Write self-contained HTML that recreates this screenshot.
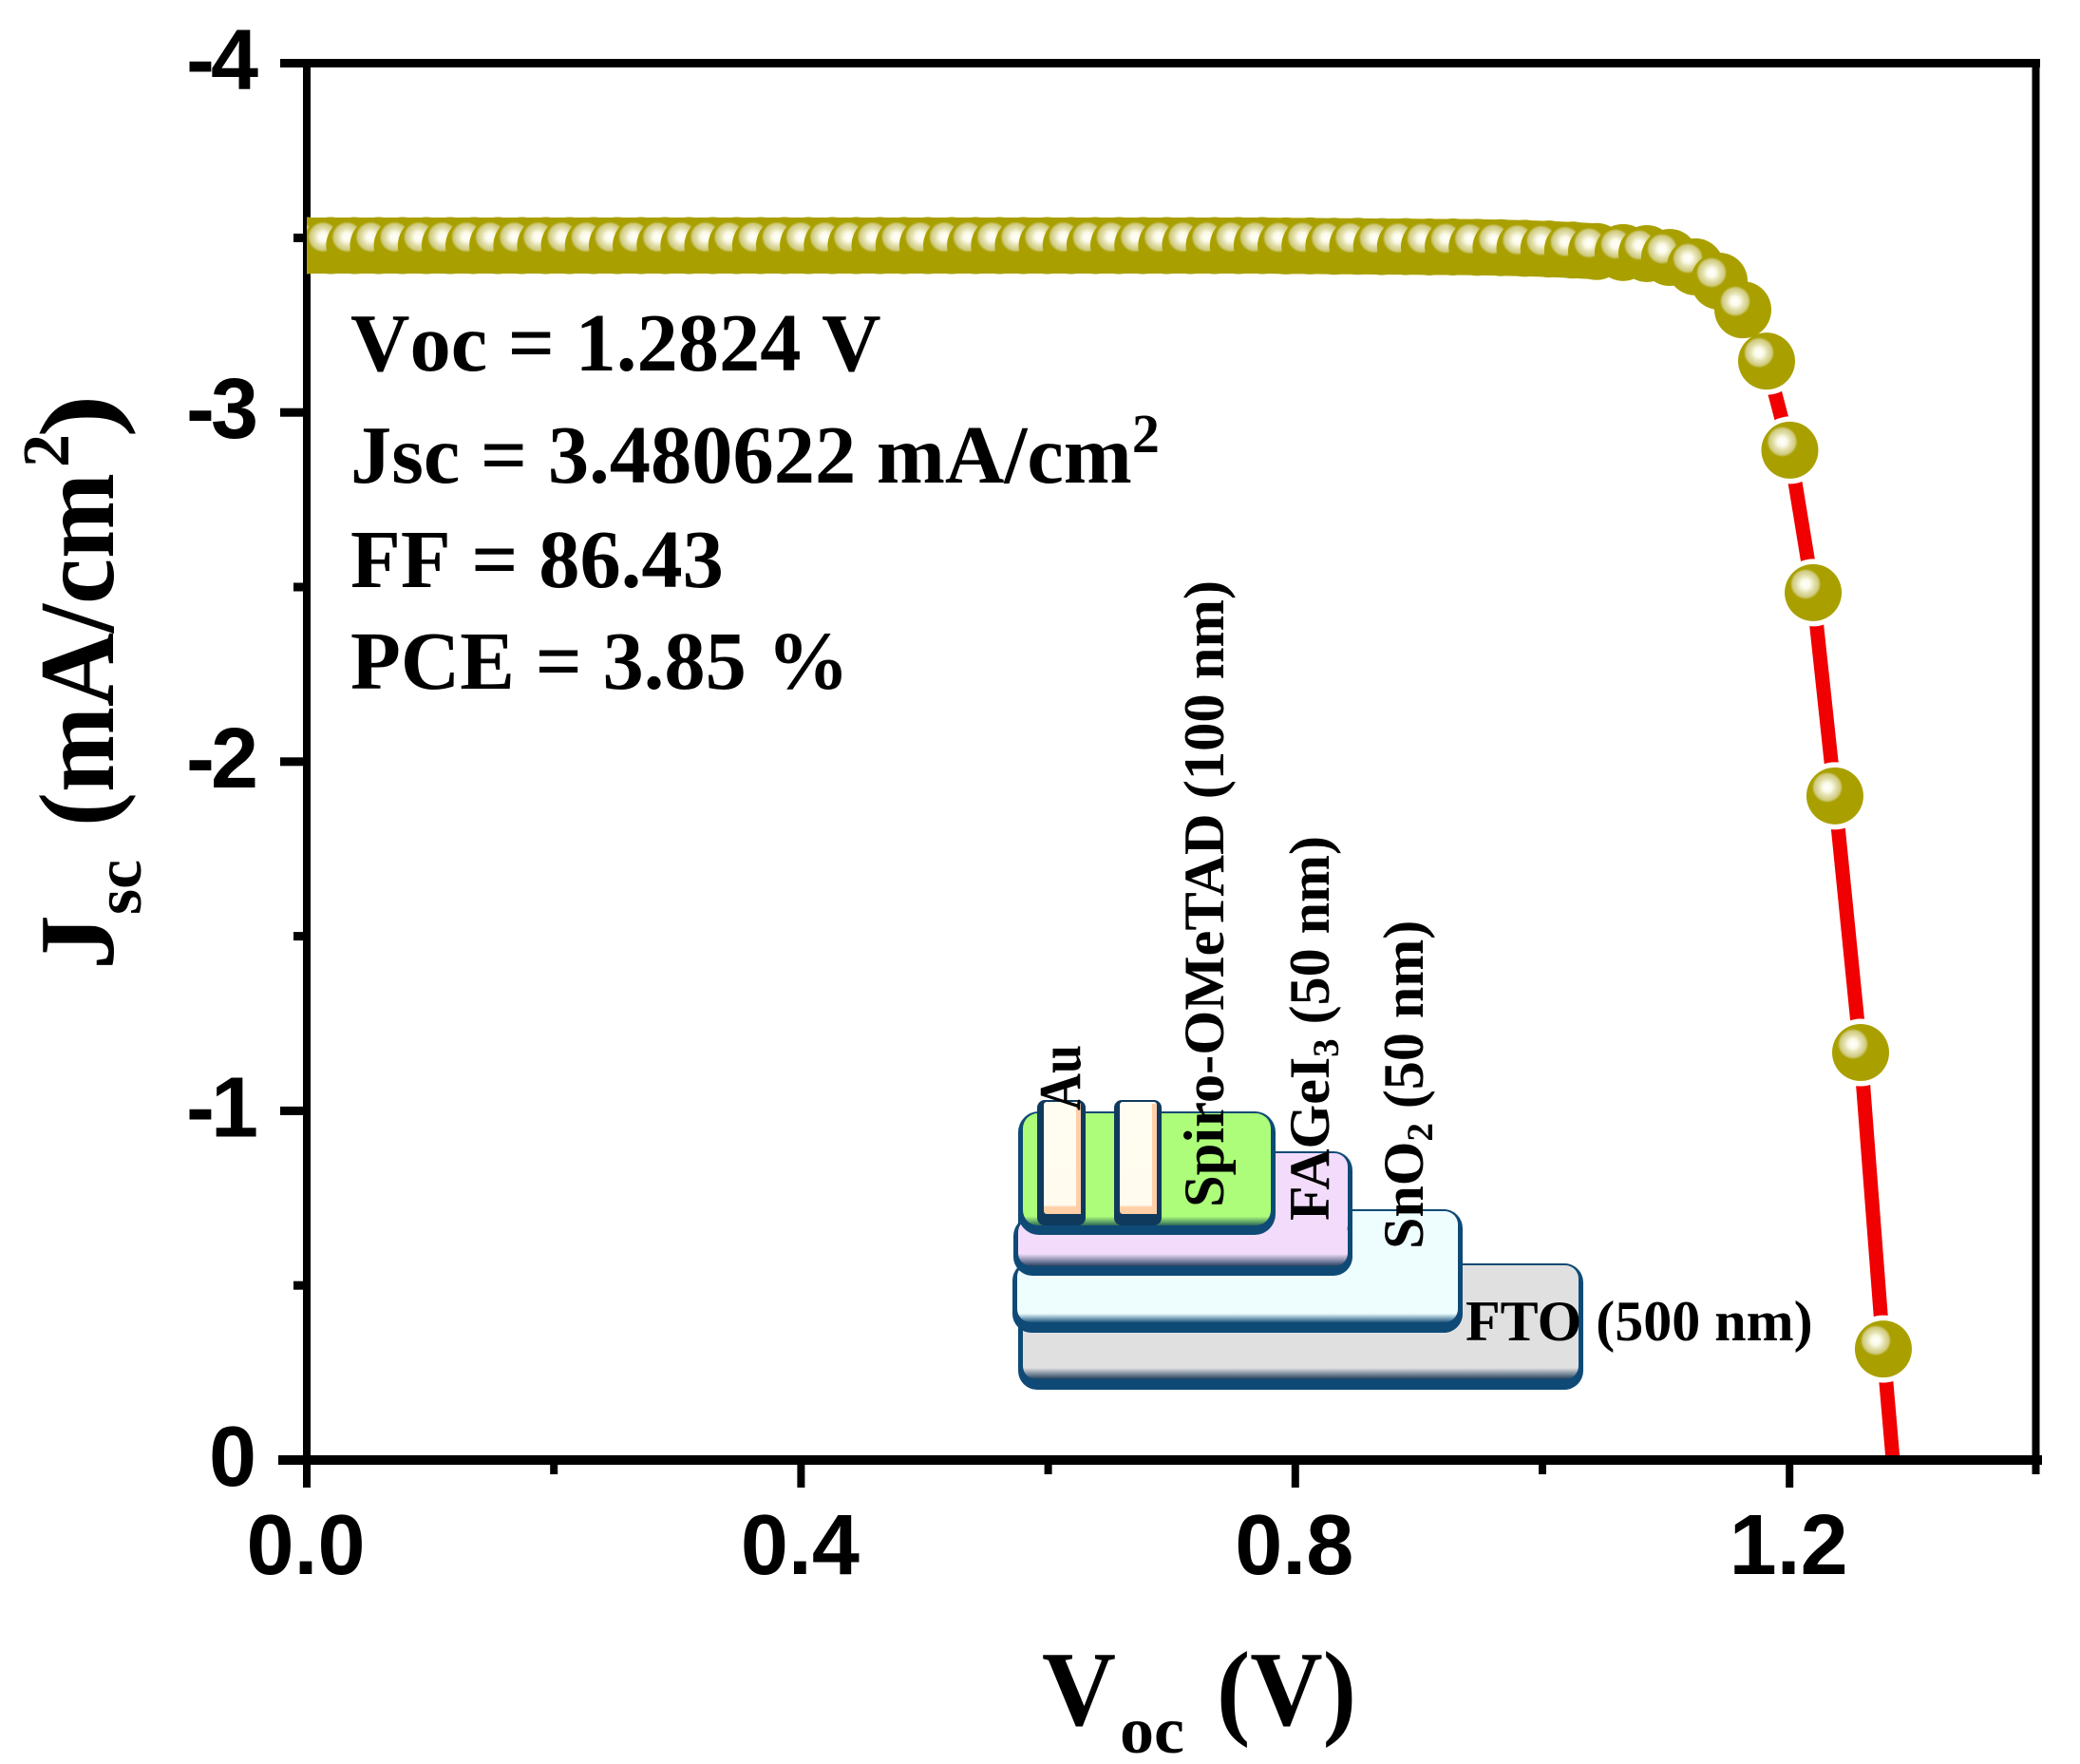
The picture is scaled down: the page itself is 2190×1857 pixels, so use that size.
<!DOCTYPE html>
<html lang="en">
<head>
<meta charset="utf-8">
<title>Jsc vs Voc J-V curve</title>
<style>
html,body{margin:0;padding:0;background:#fff;width:2190px;height:1857px;overflow:hidden}
svg{display:block}
.tick{font-family:"Liberation Sans",Arial,sans-serif;font-weight:700;font-size:90px;fill:#000}
.serif{font-family:"Liberation Serif","Times New Roman",serif;font-weight:700;fill:#000}
.stat{font-size:86.5px;font-kerning:none}
.lab{font-size:60px}
.title{font-size:112px}
.titlesub{font-size:70px}
</style>
</head>
<body>
<svg id="chart" xmlns="http://www.w3.org/2000/svg" width="2190" height="1857" viewBox="0 0 2190 1857">
<defs>
  <radialGradient id="marker-gradient" cx="0.367" cy="0.35" r="0.27" fx="0.367" fy="0.35">
    <stop offset="0" stop-color="#ffffff"/>
    <stop offset="0.3" stop-color="#fbfae8"/>
    <stop offset="0.55" stop-color="#e4e1b0"/>
    <stop offset="0.85" stop-color="#cfca7c"/>
    <stop offset="1" stop-color="#a9a000"/>
  </radialGradient>
  <clipPath id="plot-clip"><rect x="323" y="0" width="1822" height="1537"/></clipPath>
  <linearGradient id="fto-fill" x1="0" y1="0" x2="0" y2="1">
    <stop offset="0" stop-color="#e0e0e0"/><stop offset="0.9" stop-color="#e0e0e0"/><stop offset="1" stop-color="#1f3f5c"/>
  </linearGradient>
  <linearGradient id="sno2-fill" x1="0" y1="0" x2="0" y2="1">
    <stop offset="0" stop-color="#eefeff"/><stop offset="0.85" stop-color="#eefeff"/><stop offset="1" stop-color="#1f5680"/>
  </linearGradient>
  <linearGradient id="fagei-fill" x1="0" y1="0" x2="0" y2="1">
    <stop offset="0" stop-color="#f3dcfb"/><stop offset="0.74" stop-color="#f3dcfb"/><stop offset="1" stop-color="#23405f"/>
  </linearGradient>
  <linearGradient id="spiro-fill" x1="0" y1="0" x2="0" y2="1">
    <stop offset="0" stop-color="#adfc7a"/><stop offset="0.92" stop-color="#adfc7a"/><stop offset="1" stop-color="#2f6a5a"/>
  </linearGradient>
  <linearGradient id="au-fill" x1="0" y1="0" x2="0" y2="1">
    <stop offset="0" stop-color="#fffdf2"/><stop offset="0.92" stop-color="#fffbee"/><stop offset="0.94" stop-color="#ffcfa8"/><stop offset="1" stop-color="#ffcfa8"/>
  </linearGradient>
</defs>

<g id="series-line-layer"></g>
<g id="halo-layer"></g>
<g id="axes-layer"></g>
<g id="marker-layer" clip-path="url(#plot-clip)"></g>

<g>
  <g>
    <rect x="1072" y="1330" width="595" height="133" rx="20" fill="#0f4a76"/>
    <rect x="1077" y="1332" width="585" height="120" rx="14" fill="url(#fto-fill)"/>
  </g>
  <g>
    <rect x="1071" y="1273" width="469" height="130" rx="20" fill="#0f4a76"/>
    <rect x="1066" y="1328" width="474" height="75" rx="20" fill="#0f4a76"/>
    <rect x="1080" y="1275" width="455" height="100" rx="14" fill="#eefeff"/>
    <rect x="1071" y="1330" width="464" height="62" rx="14" fill="url(#sno2-fill)"/>
  </g>
  <g>
    <rect x="1072" y="1212" width="352" height="130" rx="20" fill="#0f4a76"/>
    <rect x="1067" y="1281" width="357" height="62" rx="20" fill="#0f4a76"/>
    <rect x="1080" y="1214" width="339" height="90" rx="14" fill="#f3dcfb"/>
    <rect x="1072" y="1283" width="347" height="50" rx="14" fill="url(#fagei-fill)"/>
  </g>
  <g>
    <rect x="1072" y="1170" width="271" height="130" rx="22" fill="#0f4a76"/>
    <rect x="1077" y="1172" width="261" height="118" rx="16" fill="url(#spiro-fill)"/>
  </g>
  <g>
    <rect x="1092" y="1158" width="51" height="132" rx="8" fill="#0f3a5e"/>
    <rect x="1099" y="1160" width="39" height="118" rx="3" fill="url(#au-fill)"/>
    <rect x="1133" y="1162" width="5" height="116" fill="#ffcfa8"/>
  </g>
  <g>
    <rect x="1173" y="1158" width="50" height="132" rx="8" fill="#0f3a5e"/>
    <rect x="1179" y="1160" width="39" height="118" rx="3" fill="url(#au-fill)"/>
    <rect x="1213" y="1162" width="5" height="116" fill="#ffcfa8"/>
  </g>
  <text class="serif" font-size="62" transform="translate(1137,1169) rotate(-90)" textLength="69" lengthAdjust="spacingAndGlyphs">Au</text>
  <text class="serif lab" transform="translate(1288,1271) rotate(-90)" textLength="660" lengthAdjust="spacingAndGlyphs">Spiro-OMeTAD (100 nm)</text>
  <text class="serif lab" transform="translate(1399,1285) rotate(-90)">FAGeI<tspan font-size="39" dy="10">3</tspan><tspan dy="-10"> (50 nm)</tspan></text>
  <text class="serif lab" transform="translate(1498,1315) rotate(-90)">SnO<tspan font-size="39" dy="10">2</tspan><tspan dy="-10"> (50 nm)</tspan></text>
  <text class="serif lab" x="1543" y="1411">FTO (500 nm)</text>
</g>

<g>
  <text class="serif stat" x="369" y="390">Voc = 1.2824 V</text>
  <text class="serif stat" x="369" y="508">Jsc = 3.480622 mA/cm<tspan font-size="58" dy="-32">2</tspan></text>
  <text class="serif stat" x="369" y="618">FF = 86.43</text>
  <text class="serif stat" x="369" y="725">PCE = 3.85 %</text>
</g>

<g transform="translate(119,1018) rotate(-90)">
  <text class="serif title" x="-3" y="0" textLength="58" lengthAdjust="spacingAndGlyphs">J</text>
  <text class="serif titlesub" x="55" y="29" textLength="58" lengthAdjust="spacingAndGlyphs">sc</text>
  <text class="serif title" x="148" y="0" textLength="372" lengthAdjust="spacingAndGlyphs">(mA/cm</text>
  <text class="serif titlesub" x="526" y="-47">2</text>
  <text class="serif title" x="557" y="0" textLength="46" lengthAdjust="spacingAndGlyphs">)</text>
</g>

<g>
  <text class="serif title" x="1097" y="1816" textLength="78" lengthAdjust="spacingAndGlyphs">V</text>
  <text class="serif titlesub" x="1179" y="1845" textLength="68" lengthAdjust="spacingAndGlyphs">oc</text>
  <text class="serif title" x="1281" y="1816" textLength="147" lengthAdjust="spacingAndGlyphs">(V)</text>
</g>
</svg>

<script>
const voltageValues = [0,0.0193,0.0387,0.0580,0.0773,0.0967,0.1160,0.1353,0.1546,0.1740,0.1933,0.2126,0.2320,0.2513,0.2706,0.2900,0.3093,0.3286,0.3479,0.3673,0.3866,0.4059,0.4253,0.4446,0.4639,0.4833,0.5026,0.5219,0.5412,0.5606,0.5799,0.5992,0.6186,0.6379,0.6572,0.6766,0.6959,0.7152,0.7345,0.7539,0.7732,0.7925,0.8119,0.8312,0.8505,0.8699,0.8892,0.9085,0.9278,0.9472,0.9665,0.9858,1.0052,1.0245,1.0438,1.0653,1.0845,1.1030,1.1238,1.1430,1.1622,1.1814,1.2002,1.2191,1.2367,1.2575,1.2759];
const currentValues = [-3.478,-3.478,-3.478,-3.478,-3.478,-3.478,-3.478,-3.478,-3.478,-3.478,-3.478,-3.478,-3.478,-3.478,-3.478,-3.478,-3.478,-3.478,-3.478,-3.478,-3.478,-3.478,-3.478,-3.478,-3.478,-3.478,-3.478,-3.478,-3.478,-3.478,-3.478,-3.478,-3.478,-3.478,-3.478,-3.478,-3.478,-3.478,-3.478,-3.478,-3.478,-3.477,-3.477,-3.476,-3.476,-3.475,-3.475,-3.474,-3.474,-3.473,-3.472,-3.470,-3.468,-3.465,-3.461,-3.458,-3.455,-3.444,-3.417,-3.376,-3.294,-3.147,-2.892,-2.484,-1.902,-1.167,-0.318];
const lineEndVoltage = [1.2836];
const lineEndCurrent = [0];
const xMajorTicks = [0,0.4,0.8,1.2];
const xTickLabels = ["0.0","0.4","0.8","1.2"];
const xMinorTicks = [0.2,0.6,1.0,1.4];
const yMajorTicks = [-4,-3,-2,-1,0];
const yTickLabels = ["-4","-3","-2","-1","0"];
const yMinorTicks = [-3.5,-2.5,-1.5,-0.5];

const NS = "http://www.w3.org/2000/svg";
const X0 = 323, X_PER_UNIT = 1301;
const Y0 = 1537, Y_PER_UNIT = 367.6;
function xScale(v){ return X0 + v * X_PER_UNIT; }
function yScale(j){ return Y0 + j * Y_PER_UNIT; }
function make(tag, attrs){
  const el = document.createElementNS(NS, tag);
  for (const k in attrs) el.setAttribute(k, attrs[k]);
  return el;
}

const lineLayer = document.getElementById("series-line-layer");
const haloLayer = document.getElementById("halo-layer");
const axesLayer = document.getElementById("axes-layer");
const markerLayer = document.getElementById("marker-layer");

const allV = voltageValues.concat(lineEndVoltage);
const allJ = currentValues.concat(lineEndCurrent);
const pts = allV.map(function(v,i){ return xScale(v).toFixed(1)+","+yScale(allJ[i]).toFixed(1); }).join(" ");
const redLine = make("polyline", {points:pts, fill:"none", stroke:"#f00000", "stroke-width":15, "stroke-linecap":"round", "stroke-linejoin":"round", "clip-path":"url(#plot-clip)"});


lineLayer.appendChild(redLine);

voltageValues.forEach(function(v,i){
  const halo = make("circle", {cx:xScale(v), cy:yScale(currentValues[i]), r:35.5, fill:"#ffffff"});
  
  
  haloLayer.appendChild(halo);
});

function axisRect(x,y,w,h,name){
  const r = make("rect", {x:x, y:y, width:w, height:h, fill:"#000"});
  
  
  axesLayer.appendChild(r);
}
axisRect(319, 62, 8, 1475, "left-axis-line");
axisRect(2139.5, 62, 8, 1475, "right-axis-line");
axisRect(295, 62, 1853, 9, "top-axis-line");
axisRect(293, 1532, 1857, 10, "bottom-axis-line");

xMajorTicks.forEach(function(v,i){
  const px = xScale(v);
  axisRect(px-4, 1537, 8, 29, "x-major-tick");
  const t = make("text", {x:px-1, y:1657, "text-anchor":"middle", class:"tick"});
  t.textContent = xTickLabels[i];
  
  
  axesLayer.appendChild(t);
});
xMinorTicks.forEach(function(v){
  axisRect(Math.min(xScale(v),2143.5)-4, 1537, 8, 15, "x-minor-tick");
});
yMajorTicks.forEach(function(j,i){
  const py = yScale(j);
  axisRect(295, py-4.5, 26, 9, "y-major-tick");
  const negative = yTickLabels[i].length > 1;
  const t = make("text", {x:negative ? 268 : 270, y:py+27, "text-anchor":"end", class:"tick"});
  if (negative) t.setAttribute("letter-spacing", "-4");
  t.textContent = yTickLabels[i];
  
  
  axesLayer.appendChild(t);
});
yMinorTicks.forEach(function(j){
  axisRect(309, yScale(j)-4.5, 12, 9, "y-minor-tick");
});

const flatPts = voltageValues.slice(0,55).map(function(v,i){ return xScale(v).toFixed(1)+","+yScale(currentValues[i]).toFixed(1); }).join(" ");
const flatBand = make("polyline", {points:flatPts, fill:"none", stroke:"#a9a000", "stroke-width":59});


markerLayer.appendChild(flatBand);

voltageValues.forEach(function(v,i){
  const c = make("circle", {cx:xScale(v), cy:yScale(currentValues[i]), r:30, fill:"url(#marker-gradient)"});
  
  
  markerLayer.appendChild(c);
});
</script>
</body>
</html>
